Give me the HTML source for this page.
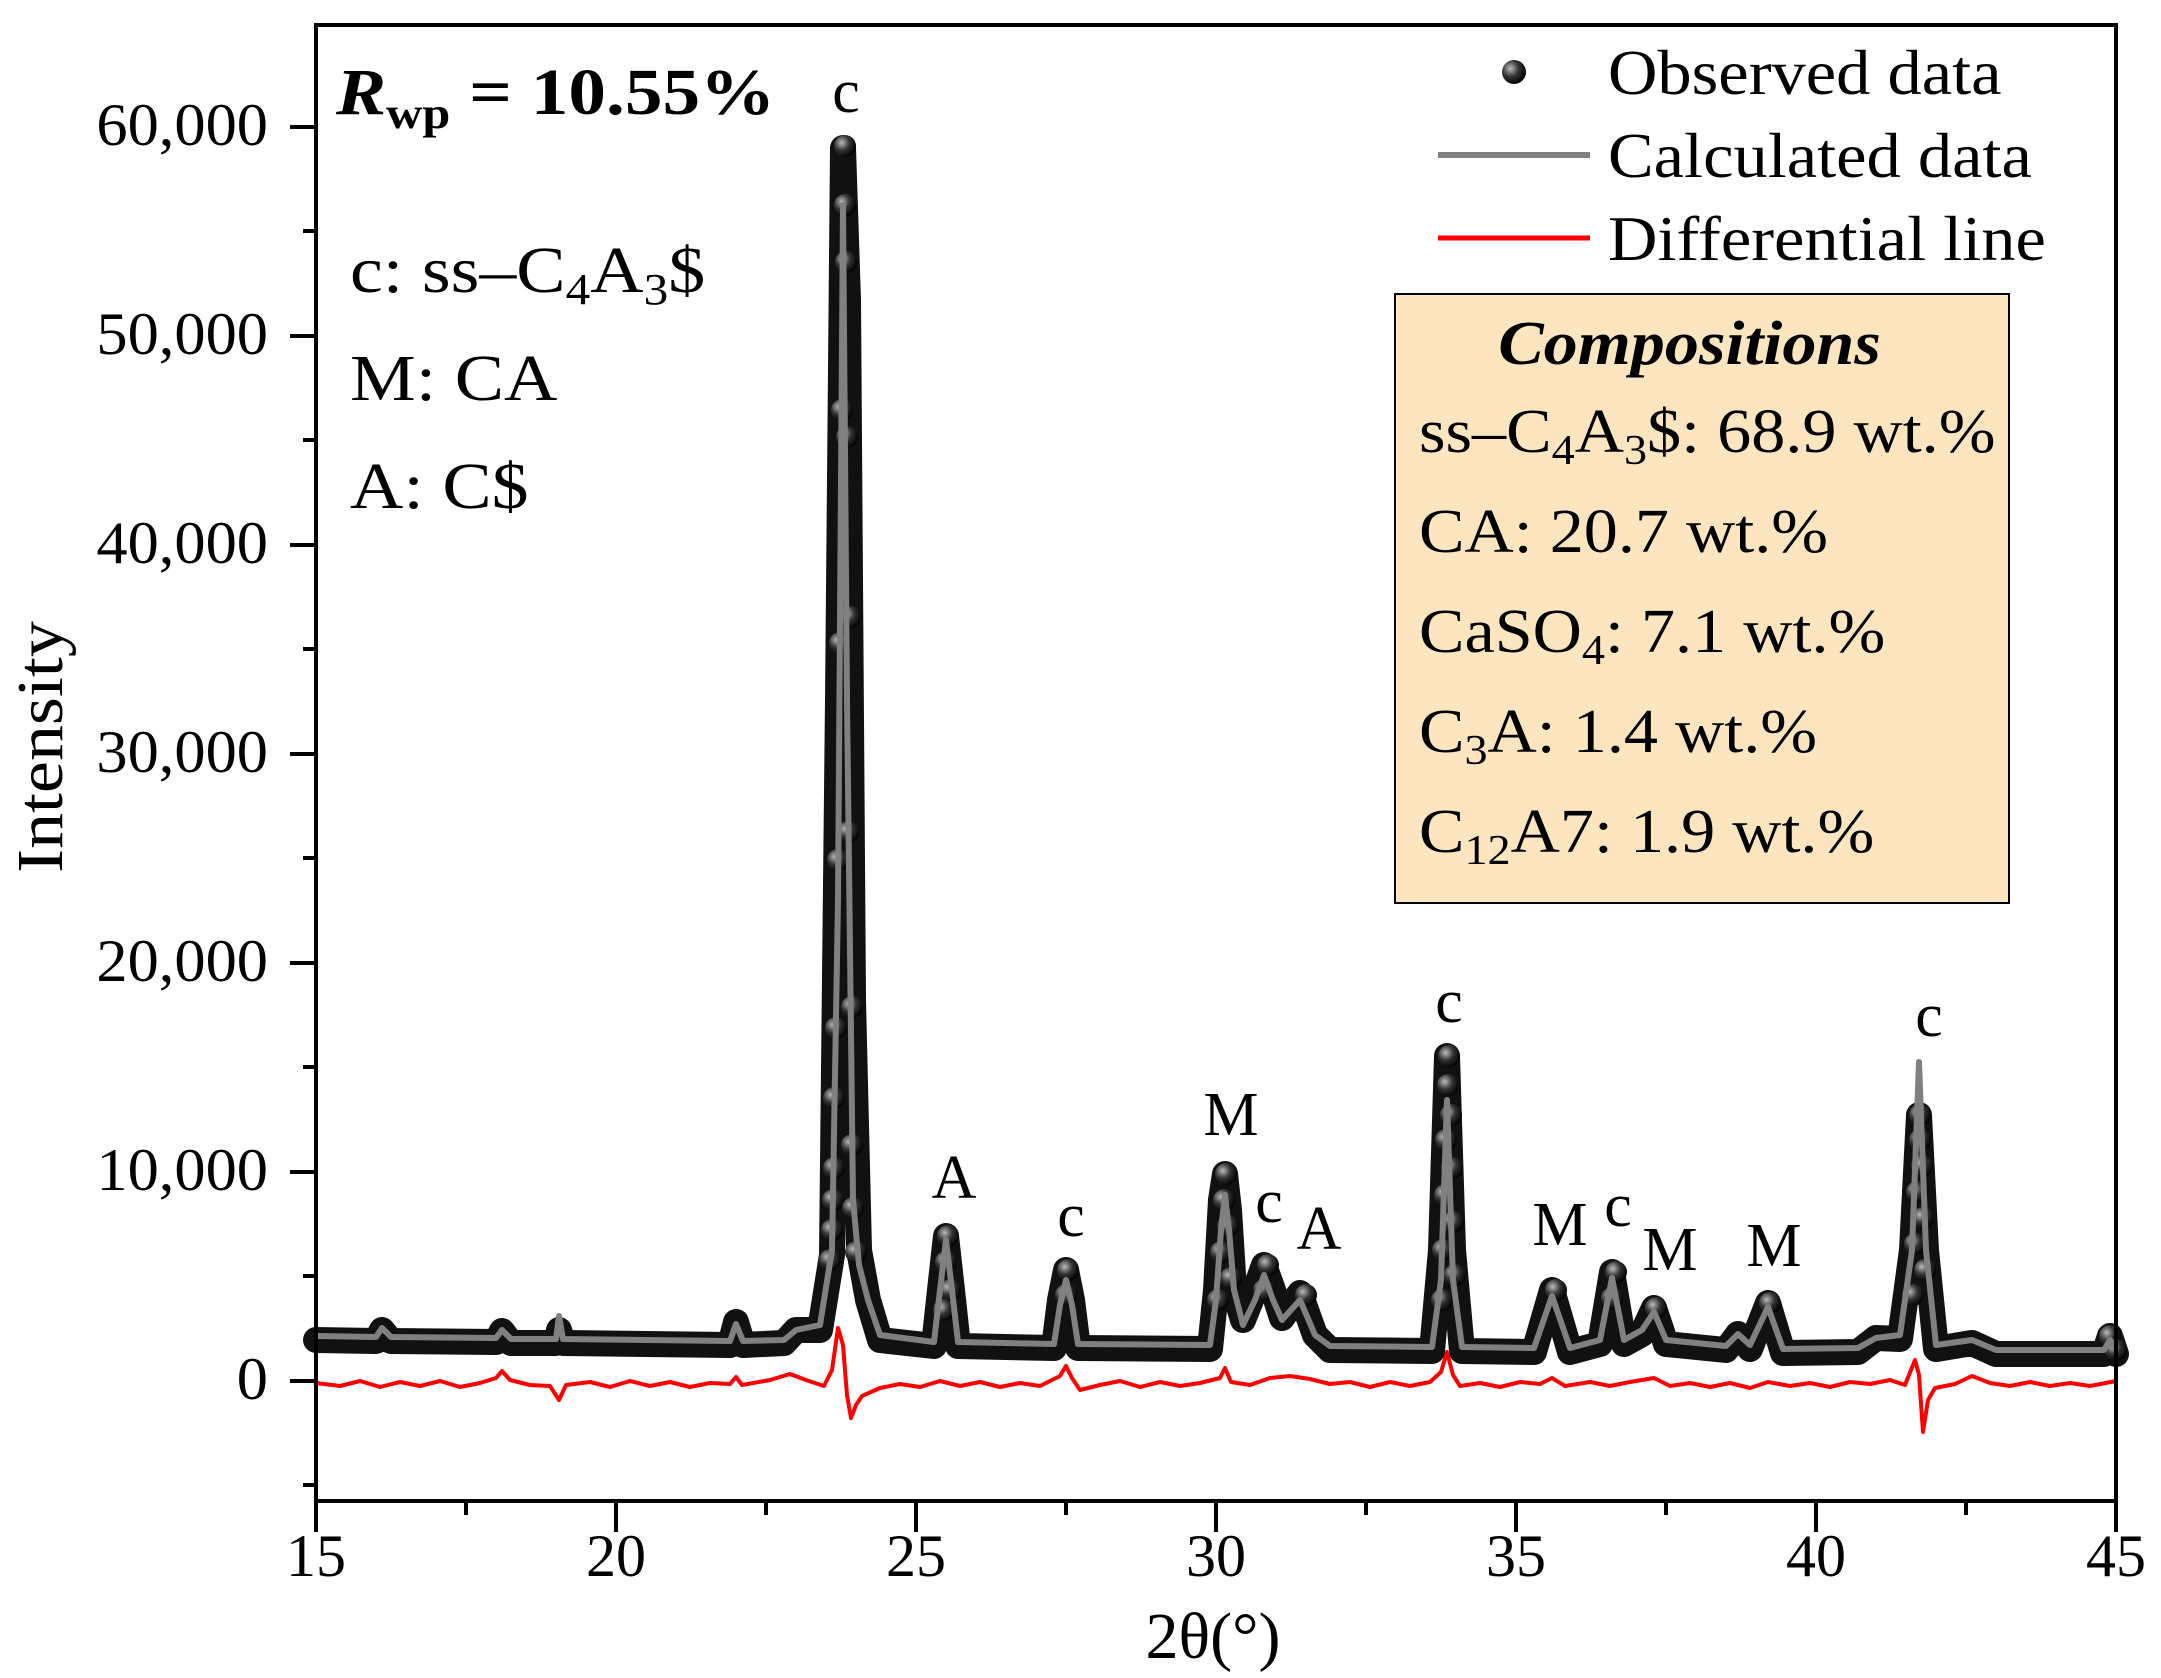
<!DOCTYPE html>
<html><head><meta charset="utf-8"><style>
html,body{margin:0;padding:0;background:#fff}
svg{display:block}
text{font-family:"Liberation Serif",serif;fill:#000}
</style></head><body>
<svg width="2161" height="1678" viewBox="0 0 2161 1678" xmlns="http://www.w3.org/2000/svg">
<defs>
<radialGradient id="g" cx="0.35" cy="0.35" r="0.7"><stop offset="0" stop-color="#bbb"/><stop offset="0.5" stop-color="#333"/><stop offset="1" stop-color="#000"/></radialGradient>
</defs>
<rect x="0" y="0" width="2161" height="1678" fill="#fff"/>

<path fill="none" stroke="#ff0000" stroke-width="4" stroke-linejoin="round" d="M316,1383 L340,1386 L360,1381 L380,1387 L400,1382 L420,1386 L440,1381 L460,1387 L480,1383 L496,1378 L502,1371 L510,1380 L530,1385 L550,1386 L559,1400 L566,1385 L590,1382 L610,1387 L630,1381 L650,1386 L670,1382 L690,1387 L710,1383 L730,1384 L736,1377 L742,1385 L770,1380 L790,1374 L806,1380 L824,1386 L832,1370 L838,1328 L843,1345 L847,1395 L851,1418 L856,1405 L862,1396 L880,1388 L900,1384 L920,1387 L940,1381 L960,1386 L980,1382 L1000,1387 L1020,1383 L1040,1386 L1060,1376 L1066,1366 L1072,1378 L1080,1390 L1100,1385 L1120,1381 L1140,1387 L1160,1382 L1180,1386 L1200,1383 L1220,1378 L1225,1368 L1231,1382 L1250,1385 L1270,1378 L1290,1376 L1310,1379 L1330,1384 L1350,1382 L1370,1387 L1390,1382 L1410,1386 L1430,1382 L1441,1372 L1447,1352 L1453,1375 L1460,1386 L1480,1383 L1500,1387 L1520,1382 L1540,1384 L1552,1378 L1565,1386 L1590,1382 L1610,1386 L1630,1382 L1654,1378 L1670,1386 L1690,1383 L1710,1387 L1730,1383 L1750,1388 L1768,1382 L1790,1386 L1810,1383 L1830,1387 L1850,1382 L1870,1384 L1890,1380 L1905,1385 L1915,1360 L1919,1375 L1923,1432 L1928,1400 L1935,1388 L1955,1384 L1972,1376 L1990,1383 L2010,1386 L2030,1382 L2050,1386 L2070,1383 L2090,1386 L2116,1381"/>

<path fill="none" stroke="#111" stroke-width="26" stroke-linejoin="round" stroke-linecap="round" d="M316,1340 L376,1341 L382,1330 L391,1341 L496,1342 L502,1331 L511,1343 L556,1343 L559,1330 L563,1343 L730,1345 L736,1322 L743,1345 L784,1343 L796,1330 L820,1330 L832,1255 L838,700 L843,148 L848,300 L853,1000 L859,1250 L868,1300 L880,1340 L934,1346 L940,1290 L946,1236 L952,1290 L958,1346 L1054,1348 L1060,1300 L1066,1270 L1072,1300 L1078,1348 L1210,1349 L1216,1290 L1221,1200 L1225,1174 L1229,1210 L1234,1290 L1243,1320 L1255,1290 L1264,1265 L1273,1290 L1282,1318 L1300,1293 L1315,1335 L1330,1350 L1432,1351 L1441,1250 L1447,1056 L1453,1250 L1462,1351 L1534,1352 L1552,1290 L1570,1352 L1600,1344 L1612,1272 L1624,1344 L1642,1334 L1654,1308 L1666,1344 L1726,1350 L1738,1334 L1750,1349 L1768,1303 L1783,1353 L1858,1352 L1876,1338 L1900,1339 L1912,1250 L1919,1115 L1926,1250 L1936,1349 L1972,1343 L1996,1354 L2104,1354 L2110,1336 L2116,1354"/>

<g fill="url(#g)">
<circle cx="845" cy="146" r="11"/><circle cx="845" cy="205" r="11"/><circle cx="846" cy="262" r="11"/><circle cx="842" cy="410" r="11"/><circle cx="847" cy="437" r="11"/><circle cx="850" cy="617" r="11"/><circle cx="840" cy="643" r="11"/><circle cx="848" cy="832" r="11"/><circle cx="838" cy="860" r="11"/><circle cx="852" cy="1007" r="11"/><circle cx="836" cy="1028" r="11"/><circle cx="834" cy="1098" r="11"/><circle cx="852" cy="1145" r="11"/><circle cx="834" cy="1168" r="11"/><circle cx="833" cy="1200" r="11"/><circle cx="853" cy="1208" r="11"/><circle cx="832" cy="1230" r="11"/><circle cx="856" cy="1252" r="11"/><circle cx="830" cy="1260" r="11"/>
<circle cx="948" cy="1236" r="11"/><circle cx="946" cy="1262" r="11"/><circle cx="950" cy="1290" r="11"/><circle cx="944" cy="1310" r="11"/>
<circle cx="1068" cy="1270" r="11"/><circle cx="1066" cy="1295" r="11"/>
<circle cx="1226" cy="1174" r="11"/><circle cx="1224" cy="1200" r="11"/><circle cx="1228" cy="1226" r="11"/><circle cx="1221" cy="1252" r="11"/><circle cx="1231" cy="1278" r="11"/><circle cx="1218" cy="1300" r="11"/>
<circle cx="1268" cy="1265" r="11"/><circle cx="1264" cy="1290" r="11"/><circle cx="1306" cy="1295" r="11"/>
<circle cx="1449" cy="1056" r="11"/><circle cx="1448" cy="1085" r="11"/><circle cx="1451" cy="1115" r="11"/><circle cx="1446" cy="1140" r="11"/><circle cx="1452" cy="1168" r="11"/><circle cx="1445" cy="1195" r="11"/><circle cx="1453" cy="1222" r="11"/><circle cx="1443" cy="1250" r="11"/><circle cx="1455" cy="1275" r="11"/><circle cx="1442" cy="1300" r="11"/>
<circle cx="1556" cy="1290" r="11"/><circle cx="1616" cy="1272" r="11"/><circle cx="1612" cy="1298" r="11"/><circle cx="1656" cy="1308" r="11"/><circle cx="1770" cy="1303" r="11"/>
<circle cx="1920" cy="1115" r="11"/><circle cx="1920" cy="1140" r="11"/><circle cx="1922" cy="1166" r="11"/><circle cx="1917" cy="1192" r="11"/><circle cx="1923" cy="1218" r="11"/><circle cx="1915" cy="1244" r="11"/><circle cx="1925" cy="1270" r="11"/><circle cx="1913" cy="1295" r="11"/>
<circle cx="2110" cy="1336" r="11"/><circle cx="2116" cy="1350" r="11"/>
</g>

<path fill="none" stroke="#808080" stroke-width="6" stroke-linejoin="round" d="M316,1336 L376,1337 L382,1328 L391,1337 L496,1338 L502,1330 L511,1339 L556,1339 L559,1316 L563,1339 L730,1341 L736,1324 L743,1341 L784,1340 L796,1330 L820,1325 L832,1250 L838,900 L843,205 L847,700 L853,1200 L859,1265 L868,1300 L880,1335 L934,1342 L940,1290 L946,1240 L952,1290 L958,1342 L1054,1344 L1060,1305 L1066,1280 L1072,1305 L1078,1344 L1210,1345 L1216,1300 L1221,1230 L1225,1195 L1229,1230 L1234,1290 L1243,1325 L1255,1300 L1264,1275 L1273,1300 L1282,1320 L1300,1300 L1315,1335 L1330,1346 L1432,1347 L1441,1280 L1447,1100 L1453,1280 L1462,1347 L1534,1348 L1552,1296 L1570,1348 L1600,1340 L1612,1278 L1624,1340 L1642,1330 L1654,1312 L1666,1340 L1726,1346 L1738,1334 L1750,1345 L1768,1307 L1783,1349 L1858,1348 L1876,1338 L1900,1335 L1912,1250 L1919,1062 L1926,1250 L1936,1345 L1972,1340 L1996,1350 L2104,1350 L2110,1340 L2116,1350"/>

<rect x="316" y="25" width="1800" height="1476" fill="none" stroke="#000" stroke-width="4"/>
<g stroke="#000" stroke-width="4">
<line x1="316" y1="1501" x2="316" y2="1532"/><line x1="466" y1="1501" x2="466" y2="1515"/>
<line x1="616" y1="1501" x2="616" y2="1532"/><line x1="766" y1="1501" x2="766" y2="1515"/>
<line x1="916" y1="1501" x2="916" y2="1532"/><line x1="1066" y1="1501" x2="1066" y2="1515"/>
<line x1="1216" y1="1501" x2="1216" y2="1532"/><line x1="1366" y1="1501" x2="1366" y2="1515"/>
<line x1="1516" y1="1501" x2="1516" y2="1532"/><line x1="1666" y1="1501" x2="1666" y2="1515"/>
<line x1="1816" y1="1501" x2="1816" y2="1532"/><line x1="1966" y1="1501" x2="1966" y2="1515"/>
<line x1="2116" y1="1501" x2="2116" y2="1532"/>
<line x1="316" y1="1485" x2="303" y2="1485"/>
<line x1="316" y1="1381" x2="290" y2="1381"/><line x1="316" y1="1276" x2="303" y2="1276"/>
<line x1="316" y1="1172" x2="290" y2="1172"/><line x1="316" y1="1067" x2="303" y2="1067"/>
<line x1="316" y1="963" x2="290" y2="963"/><line x1="316" y1="858" x2="303" y2="858"/>
<line x1="316" y1="754" x2="290" y2="754"/><line x1="316" y1="649" x2="303" y2="649"/>
<line x1="316" y1="545" x2="290" y2="545"/><line x1="316" y1="440" x2="303" y2="440"/>
<line x1="316" y1="336" x2="290" y2="336"/><line x1="316" y1="231" x2="303" y2="231"/>
<line x1="316" y1="127" x2="290" y2="127"/>
</g>
<g font-size="60" text-anchor="end" transform="translate(268,0) scale(1.04,1) translate(-268,0)">
<text x="268" y="1399">0</text>
<text x="268" y="1190">10,000</text>
<text x="268" y="981">20,000</text>
<text x="268" y="772">30,000</text>
<text x="268" y="563">40,000</text>
<text x="268" y="354">50,000</text>
<text x="268" y="145">60,000</text>
</g>
<g font-size="60" text-anchor="middle">
<text x="316" y="1576">15</text>
<text x="616" y="1576">20</text>
<text x="916" y="1576">25</text>
<text x="1216" y="1576">30</text>
<text x="1516" y="1576">35</text>
<text x="1816" y="1576">40</text>
<text x="2116" y="1576">45</text>
</g>
<text x="1213" y="1658" font-size="66" text-anchor="middle">2θ(°)</text>
<text transform="translate(62,747) rotate(-90) scale(1.09,1)" font-size="66" text-anchor="middle">Intensity</text>
<g font-size="62" text-anchor="middle">
<text x="846" y="112">c</text>
<text x="954" y="1198">A</text>
<text x="1071" y="1236">c</text>
<text x="1231" y="1135">M</text>
<text x="1269" y="1222">c</text>
<text x="1319" y="1249">A</text>
<text x="1449" y="1022">c</text>
<text x="1560" y="1245">M</text>
<text x="1618" y="1226">c</text>
<text x="1670" y="1270">M</text>
<text x="1774" y="1266">M</text>
<text x="1929" y="1036">c</text>
</g>
<g transform="translate(336,0) scale(1.14,1) translate(-336,0)">
<text x="336" y="114" font-size="66" font-weight="bold"><tspan font-style="italic">R</tspan><tspan font-size="44" dy="14">wp</tspan><tspan dy="-14"> = 10.55%</tspan></text>
</g>
<g font-size="66" transform="translate(350,0) scale(1.12,1) translate(-350,0)">
<text x="350" y="292">c: ss–C<tspan font-size="44" dy="12">4</tspan><tspan dy="-12">A</tspan><tspan font-size="44" dy="12">3</tspan><tspan dy="-12">$</tspan></text>
<text x="350" y="400">M: CA</text>
<text x="350" y="508">A: C$</text>
</g>
<circle cx="1514" cy="72" r="12" fill="url(#g)"/>
<line x1="1438" y1="155" x2="1590" y2="155" stroke="#808080" stroke-width="6"/>
<line x1="1438" y1="238" x2="1590" y2="238" stroke="#ff0000" stroke-width="5"/>
<g font-size="64" transform="translate(1608,0) scale(1.07,1) translate(-1608,0)">
<text x="1608" y="94">Observed data</text>
<text x="1608" y="177">Calculated data</text>
<text x="1608" y="260">Differential line</text>
</g>
<rect x="1395" y="294" width="614" height="609" fill="#fde5c0" stroke="#000" stroke-width="2"/>
<g transform="translate(1419,0) scale(1.1,1) translate(-1419,0)">
<text x="1491" y="364" font-size="62" font-weight="bold" font-style="italic">Compositions</text>
<g font-size="62">
<text x="1419" y="452">ss–C<tspan font-size="42" dy="12">4</tspan><tspan dy="-12">A</tspan><tspan font-size="42" dy="12">3</tspan><tspan dy="-12">$: 68.9 wt.%</tspan></text>
<text x="1419" y="552">CA: 20.7 wt.%</text>
<text x="1419" y="652">CaSO<tspan font-size="42" dy="12">4</tspan><tspan dy="-12">: 7.1 wt.%</tspan></text>
<text x="1419" y="752">C<tspan font-size="42" dy="12">3</tspan><tspan dy="-12">A: 1.4 wt.%</tspan></text>
<text x="1419" y="852">C<tspan font-size="42" dy="12">12</tspan><tspan dy="-12">A7: 1.9 wt.%</tspan></text>
</g>
</g>
</svg>
</body></html>
